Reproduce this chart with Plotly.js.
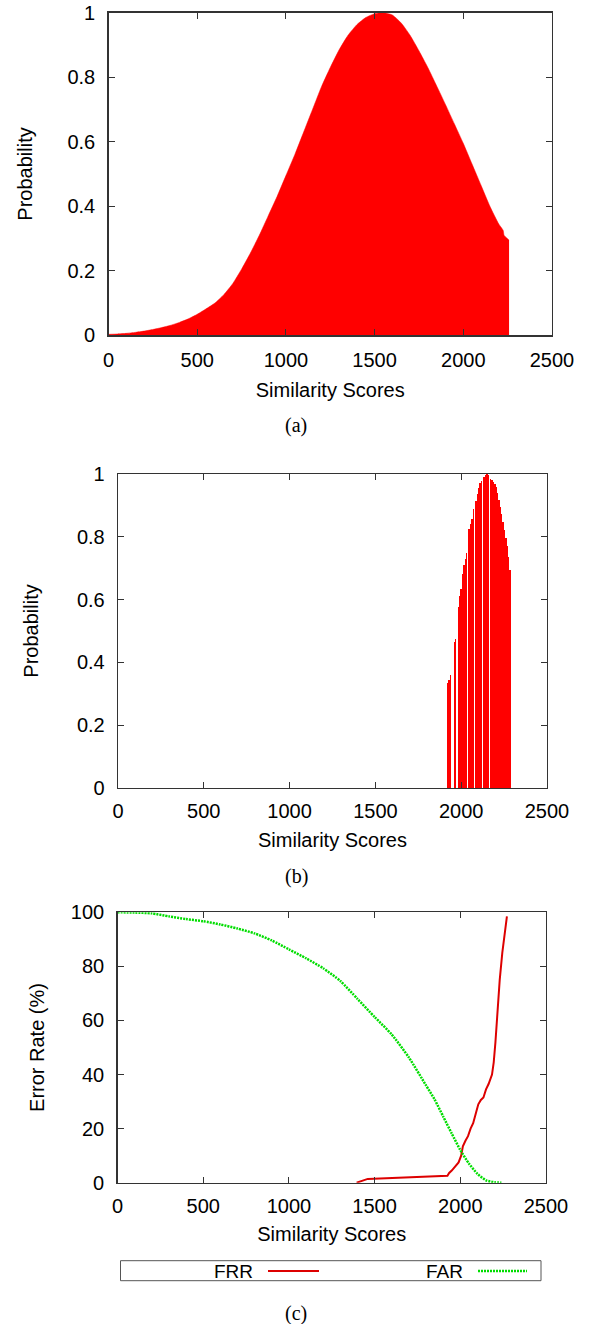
<!DOCTYPE html>
<html><head><meta charset="utf-8">
<script src="https://cdn.plot.ly/plotly-3.0.1.min.js"></script>
<style>html,body{margin:0;padding:0;background:#fff}#chart{width:591px;height:1324px}</style>
</head><body><div id="chart"></div>
<script>
// ---- Data ----
// (a) impostor score distribution
const impostorScores = [0,50,100,150,200,250,300,350,400,450,500,550,600,650,700,750,800,850,900,950,1000,1050,1100,1150,1200,1250,1300,1350,1400,1450,1500,1550,1600,1650,1700,1750,1800,1850,1900,1950,2000,2050,2100,2150,2200,2225,2230,2258];
const impostorProb = [0.003,0.004,0.006,0.009,0.013,0.018,0.024,0.031,0.040,0.051,0.065,0.082,0.100,0.126,0.160,0.205,0.255,0.310,0.370,0.430,0.495,0.560,0.630,0.700,0.770,0.830,0.885,0.930,0.963,0.985,0.997,1.000,0.993,0.968,0.930,0.882,0.830,0.773,0.715,0.655,0.595,0.530,0.465,0.400,0.345,0.325,0.310,0.295];
// (b) genuine score distribution
const genuineScores = [1922,1930,1938, 1960,1968, 1984,1992,2000,2008,2016,2024,2032, 2047,2055,2063,2071, 2086,2094,2102,2110,2118, 2133,2141,2149,2157, 2172,2180,2188,2196,2204,2212,2220,2228,2236,2244,2252,2260,2268,2276,2284];
const genuineProb = [0.335,0.345,0.360, 0.465,0.475, 0.575,0.610,0.635,0.680,0.710,0.730,0.750, 0.825,0.840,0.858,0.890, 0.915,0.935,0.955,0.970,0.978, 0.990,0.997,1.000,0.998, 0.985,0.980,0.975,0.968,0.958,0.940,0.916,0.895,0.872,0.848,0.822,0.797,0.770,0.735,0.695];
// (c) error rates
const frrScores = [1395,1420,1445,1460,1925,1935,1950,1970,1990,2005,2015,2030,2045,2060,2075,2090,2105,2120,2135,2150,2165,2185,2195,2205,2215,2230,2245,2260,2272];
const frrRate = [0,0.6,1.2,1.4,2.6,3.6,4.5,5.9,7.5,10.0,13.5,15.5,17.2,20.0,22.0,25.5,29.0,30.6,31.5,34.5,36.5,40.0,44.5,52.0,62.0,75.0,85.0,92.0,98.5];
const farScores = [0,100,200,300,400,500,600,700,800,900,1000,1100,1200,1300,1400,1500,1600,1700,1800,1850,1900,1950,2000,2050,2100,2150,2200,2240];
const farRate = [100,99.9,99.6,98.5,97.5,96.7,95.5,94.0,92.2,89.6,86.3,83.0,79.3,74.6,68.0,61.3,54.8,46.3,36.0,30.8,24.5,18.2,12.1,7.1,3.3,0.9,0.15,0];
// labels
const xTitle = 'Similarity Scores';
const probTitle = 'Probability';
const errTitle = 'Error Rate (%)';
const panelLabels = ['(a)','(b)','(c)'];
const legendNames = ['FRR','FAR'];

// ---- Layout helpers ----
const W = 591, H = 1324;
const frames = [
  {l:108.5, r:552, t:12.7, b:335.3, xs:13, ys:29, xl:6},
  {l:118, r:547, t:474, b:788, xs:11, ys:32.5, xl:5},
  {l:117.5, r:546, t:912.3, b:1182.7, xs:11, ys:20.5, xl:5}
];
const px = v => v / W;
const py = v => 1 - v / H;
const FONT = 'Liberation Sans, Arial, Helvetica, sans-serif';
const SERIF = 'Liberation Serif, Times New Roman, serif';
const RED = '#ff0000';
const FRR_COLOR = '#dd0000';
const FAR_COLOR = '#00dd00';
const TXT = {family: FONT, size: 20, color: '#000'};

function xAxis(f, anchor) {
  return {
    domain: [px(f.l), px(f.r)], anchor: anchor, range: [0, 2500], dtick: 500, tick0: 0,
    ticks: 'inside', ticklen: 6, tickwidth: 1, tickcolor: '#333', mirror: 'ticks',
    showline: true, linecolor: '#333', linewidth: 1.3, showgrid: false, zeroline: false,
    tickfont: TXT, ticklabelstandoff: f.xl,
    title: {text: xTitle, font: TXT, standoff: f.xs},
    automargin: false, fixedrange: true
  };
}
function yAxis(f, anchor, range, dtick, title) {
  return {
    domain: [py(f.b), py(f.t)], anchor: anchor, range: range, dtick: dtick, tick0: 0,
    ticks: 'inside', ticklen: 6, tickwidth: 1, tickcolor: '#333', mirror: 'ticks',
    showline: true, linecolor: '#333', linewidth: 1.3, showgrid: false, zeroline: false,
    tickfont: TXT, ticklabelstandoff: 8,
    title: {text: title, font: TXT, standoff: f.ys},
    automargin: false, fixedrange: true
  };
}

const traces = [
  {type: 'scatter', mode: 'lines', x: impostorScores, y: impostorProb, xaxis: 'x', yaxis: 'y',
   fill: 'tozeroy', fillcolor: RED, line: {color: RED, width: 0.5, shape: 'spline', smoothing: 0.5}, showlegend: false, hoverinfo: 'skip'},
  {type: 'bar', x: genuineScores, y: genuineProb, width: 9, xaxis: 'x2', yaxis: 'y2',
   marker: {color: RED, line: {width: 0}}, showlegend: false, hoverinfo: 'skip'},
  {type: 'scatter', mode: 'lines', name: legendNames[0], x: frrScores, y: frrRate, xaxis: 'x3', yaxis: 'y3',
   line: {color: FRR_COLOR, width: 2}, showlegend: false},
  {type: 'scatter', mode: 'lines', name: legendNames[1], x: farScores, y: farRate, xaxis: 'x3', yaxis: 'y3',
   line: {color: FAR_COLOR, width: 2.5, dash: '2px,1px', shape: 'spline', smoothing: 0.6}, showlegend: false}
];

const legendY = 1271;
const layout = {
  width: W, height: H, margin: {l: 0, r: 0, t: 0, b: 0},
  paper_bgcolor: '#fff', plot_bgcolor: '#fff', showlegend: false, bargap: 0,
  xaxis: xAxis(frames[0], 'y'), yaxis: yAxis(frames[0], 'x', [0, 1], 0.2, probTitle),
  xaxis2: xAxis(frames[1], 'y2'), yaxis2: yAxis(frames[1], 'x2', [0, 1], 0.2, probTitle),
  xaxis3: xAxis(frames[2], 'y3'), yaxis3: yAxis(frames[2], 'x3', [0, 100], 20, errTitle),
  shapes: [
    {type: 'rect', xref: 'paper', yref: 'paper', x0: px(120.5), x1: px(541), y0: py(1280.7), y1: py(1260.7),
     line: {color: '#555', width: 1}, fillcolor: 'rgba(0,0,0,0)'},
    {type: 'line', xref: 'paper', yref: 'paper', x0: px(268), x1: px(319), y0: py(legendY), y1: py(legendY),
     line: {color: FRR_COLOR, width: 2}},
    {type: 'line', xref: 'paper', yref: 'paper', x0: px(478), x1: px(527), y0: py(legendY), y1: py(legendY),
     line: {color: FAR_COLOR, width: 2.5, dash: '2px,1px'}}
  ],
  annotations: [
    {xref: 'paper', yref: 'paper', x: px(255), y: py(legendY), xanchor: 'right', yanchor: 'middle', showarrow: false,
     text: legendNames[0], font: {family: FONT, size: 19, color: '#000'}},
    {xref: 'paper', yref: 'paper', x: px(465), y: py(legendY), xanchor: 'right', yanchor: 'middle', showarrow: false,
     text: legendNames[1], font: {family: FONT, size: 19, color: '#000'}},
    {xref: 'paper', yref: 'paper', x: px(296), y: py(425), xanchor: 'center', yanchor: 'middle', showarrow: false,
     text: panelLabels[0], font: {family: SERIF, size: 20, color: '#000'}},
    {xref: 'paper', yref: 'paper', x: px(296), y: py(876), xanchor: 'center', yanchor: 'middle', showarrow: false,
     text: panelLabels[1], font: {family: SERIF, size: 20, color: '#000'}},
    {xref: 'paper', yref: 'paper', x: px(296), y: py(1313), xanchor: 'center', yanchor: 'middle', showarrow: false,
     text: panelLabels[2], font: {family: SERIF, size: 20, color: '#000'}}
  ]
};

Plotly.newPlot('chart', traces, layout, {staticPlot: true, displayModeBar: false});
</script>
</body></html>
